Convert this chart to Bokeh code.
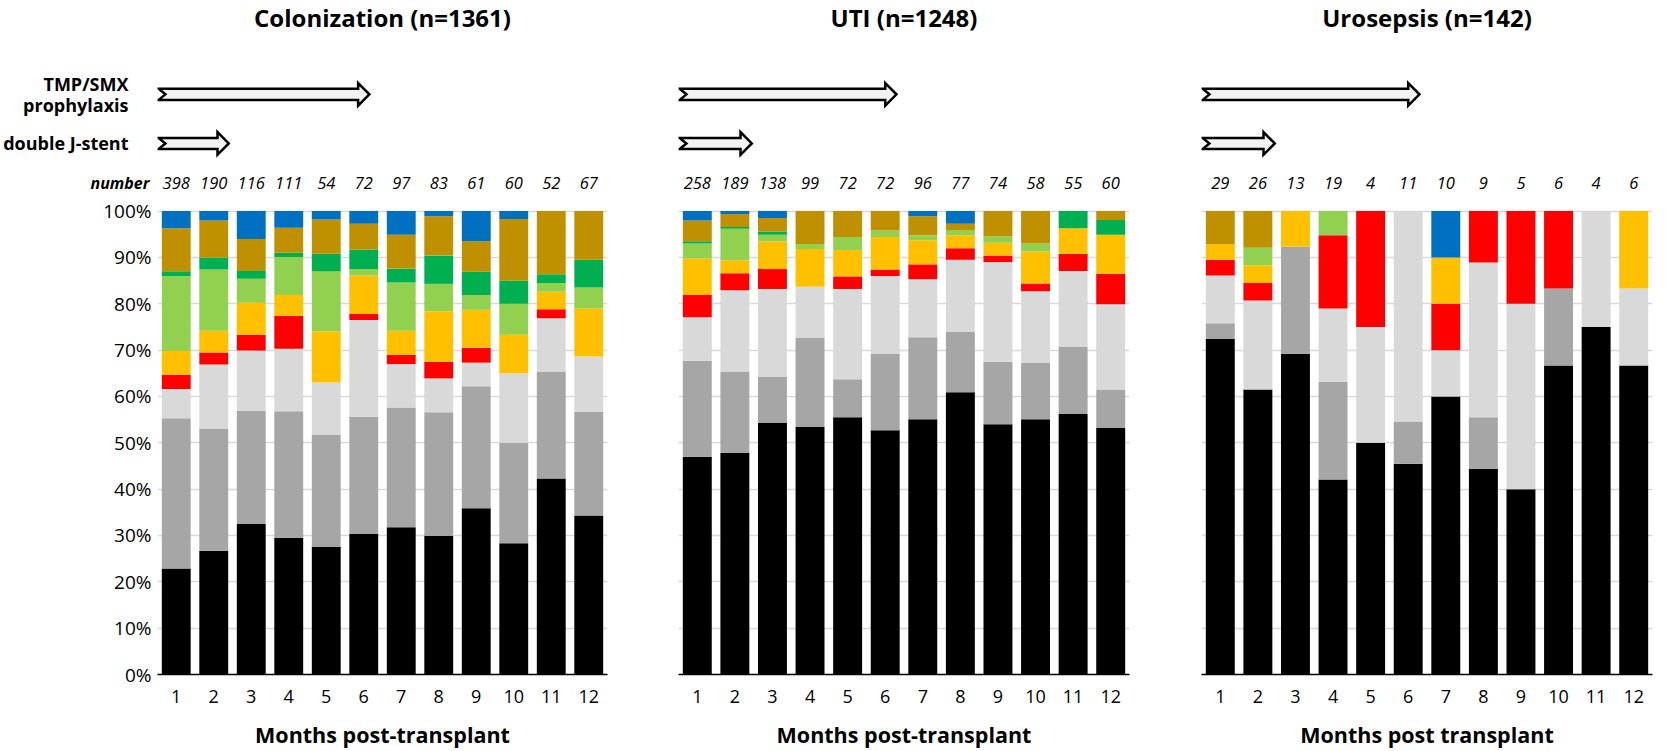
from bokeh.plotting import figure
from bokeh.layouts import row
from bokeh.models import ColumnDataSource, FixedTicker, Range1d, LinearAxis
from bokeh.core.properties import value
from bokeh.embed import file_html
from bokeh.resources import INLINE

FONT = "Open Sans"

months = list(range(1, 13))
month_labels = [str(m) for m in months]
series = ["black", "dark_gray", "light_gray", "red", "yellow", "light_green", "green", "gold", "blue"]
colors = ["#000000", "#A6A6A6", "#D9D9D9", "#FF0000", "#FFC000", "#92D050", "#00B050", "#BF9000", "#0070C0"]

titles = ["Colonization (n=1361)", "UTI (n=1248)", "Urosepsis (n=142)"]
xlabels = ["Months post-transplant", "Months post-transplant", "Months post transplant"]

# sample numbers per month
n_colonization = [398, 190, 116, 111, 54, 72, 97, 83, 61, 60, 52, 67]
n_uti = [258, 189, 138, 99, 72, 72, 96, 77, 74, 58, 55, 60]
n_urosepsis = [29, 26, 13, 19, 4, 11, 10, 9, 5, 6, 4, 6]

# Colonization (% per month)
col_black = [22.9, 26.7, 32.5, 29.5, 27.5, 30.3, 31.8, 29.9, 35.9, 28.3, 42.3, 34.3]
col_dark_gray = [32.4, 26.4, 24.4, 27.3, 24.3, 25.3, 25.8, 26.7, 26.3, 21.7, 23.1, 22.4]
col_light_gray = [6.3, 13.8, 13.0, 13.5, 11.2, 20.9, 9.4, 7.3, 5.1, 15.0, 11.5, 11.9]
col_red = [3.1, 2.6, 3.4, 7.1, 0.0, 1.3, 2.0, 3.6, 3.2, 0.0, 1.9, 0.0]
col_yellow = [5.1, 4.7, 6.9, 4.5, 11.1, 8.3, 5.2, 10.9, 8.2, 8.3, 3.8, 10.4]
col_light_green = [16.2, 13.2, 5.2, 8.2, 12.9, 1.4, 10.4, 5.9, 3.2, 6.7, 1.9, 4.5]
col_green = [1.0, 2.6, 1.7, 0.9, 3.8, 4.2, 3.0, 6.1, 5.0, 5.0, 1.9, 6.0]
col_gold = [9.3, 8.0, 6.9, 5.4, 7.4, 5.6, 7.3, 8.5, 6.6, 13.3, 13.6, 10.5]
col_blue = [3.7, 2.0, 6.0, 3.6, 1.8, 2.7, 5.1, 1.1, 6.5, 1.7, 0.0, 0.0]

# UTI (% per month)
uti_black = [47.0, 47.8, 54.3, 53.4, 55.5, 52.7, 55.1, 60.9, 54.0, 55.1, 56.2, 53.2]
uti_dark_gray = [20.7, 17.6, 10.0, 19.3, 8.2, 16.6, 17.7, 13.0, 13.5, 12.1, 14.6, 8.3]
uti_light_gray = [9.4, 17.5, 18.9, 11.0, 19.5, 16.7, 12.5, 15.6, 21.5, 15.5, 16.3, 18.4]
uti_red = [4.8, 3.7, 4.3, 0.0, 2.7, 1.4, 3.2, 2.5, 1.4, 1.7, 3.7, 6.6]
uti_yellow = [7.9, 2.8, 6.0, 8.1, 5.7, 7.0, 5.2, 2.8, 2.8, 6.9, 5.5, 8.4]
uti_light_green = [3.2, 6.8, 1.4, 1.1, 2.8, 1.4, 1.1, 1.1, 1.4, 1.7, 0.0, 0.0]
uti_green = [0.5, 0.4, 0.7, 0.0, 0.0, 0.0, 0.0, 0.0, 0.0, 0.0, 3.7, 3.2]
uti_gold = [4.5, 2.8, 2.9, 7.1, 5.6, 4.2, 4.1, 1.4, 5.4, 7.0, 0.0, 1.9]
uti_blue = [2.0, 0.6, 1.5, 0.0, 0.0, 0.0, 1.1, 2.7, 0.0, 0.0, 0.0, 0.0]

# Urosepsis (% per month)
uro_black = [72.4, 61.5, 69.2, 42.1, 50.0, 45.5, 60.0, 44.4, 40.0, 66.7, 75.0, 66.7]
uro_dark_gray = [3.4, 0.0, 23.1, 21.1, 0.0, 9.1, 0.0, 11.1, 0.0, 16.6, 0.0, 0.0]
uro_light_gray = [10.3, 19.2, 0.0, 15.8, 25.0, 45.4, 10.0, 33.4, 40.0, 0.0, 25.0, 16.6]
uro_red = [3.4, 3.8, 0.0, 15.8, 25.0, 0.0, 10.0, 11.1, 20.0, 16.7, 0.0, 0.0]
uro_yellow = [3.4, 3.8, 7.7, 0.0, 0.0, 0.0, 10.0, 0.0, 0.0, 0.0, 0.0, 16.7]
uro_light_green = [0.0, 3.8, 0.0, 5.2, 0.0, 0.0, 0.0, 0.0, 0.0, 0.0, 0.0, 0.0]
uro_green = [0.0] * 12
uro_gold = [7.1, 7.9, 0.0, 0.0, 0.0, 0.0, 0.0, 0.0, 0.0, 0.0, 0.0, 0.0]
uro_blue = [0.0, 0.0, 0.0, 0.0, 0.0, 0.0, 10.0, 0.0, 0.0, 0.0, 0.0, 0.0]

panels = [
    (n_colonization, [col_black, col_dark_gray, col_light_gray, col_red, col_yellow,
                      col_light_green, col_green, col_gold, col_blue]),
    (n_uti, [uti_black, uti_dark_gray, uti_light_gray, uti_red, uti_yellow,
             uti_light_green, uti_green, uti_gold, uti_blue]),
    (n_urosepsis, [uro_black, uro_dark_gray, uro_light_gray, uro_red, uro_yellow,
                   uro_light_green, uro_green, uro_gold, uro_blue]),
]

# annotation arrows (end positions in month units): TMP/SMX prophylaxis and double J-stent
arrow_tmp_end = [6.15, 6.3, 6.3]
arrow_stent_end = [2.4, 2.45, 2.45]

Y_TOP = 137.9
Y_LONG = 125.2
Y_SHORT = 114.6
Y_NUM = 106.1
Y_TMP = 127.5
Y_PRO = 122.9


def arrow_patch(x0, x1, yc):
    body = 1.2
    head = 2.45
    hl = 0.30
    notch = 0.18
    xs = [x0, x1 - hl, x1 - hl, x1, x1 - hl, x1 - hl, x0, x0 + notch]
    ys = [yc + body, yc + body, yc + head, yc, yc - head, yc - body, yc - body, yc]
    return xs, ys


def plain_axis(ax):
    ax.axis_line_color = None
    ax.major_tick_line_color = None
    ax.minor_tick_line_color = None
    ax.major_tick_out = 0
    ax.major_tick_in = 0
    ax.minor_tick_out = 0
    ax.minor_tick_in = 0
    ax.major_label_text_color = "black"
    ax.major_label_text_font = FONT


widths = [642, 523, 507]
borders_left = [156, 36, 36]
borders_right = [35, 36, 20]

figs = []
for i, (counts, vals) in enumerate(panels):
    p = figure(width=widths[i], height=751, output_backend="svg", toolbar_location=None,
               x_range=Range1d(0.5, 12.5), y_range=Range1d(0, Y_TOP),
               min_border_left=borders_left[i], min_border_right=borders_right[i],
               min_border_top=34, min_border_bottom=77)
    p.outline_line_color = None
    p.background_fill_color = "white"
    p.border_fill_color = "white"

    data = {"x": months}
    for name, v in zip(series, vals):
        data[name] = v
    src = ColumnDataSource(data)
    p.vbar_stack(series, x="x", width=0.77, color=colors, line_color=None, source=src)

    # title
    p.title.text = titles[i]
    p.title.align = "center"
    p.title.vertical_align = "top"
    p.title.text_font = FONT
    p.title.text_font_size = "24px"
    p.title.text_font_style = "bold"
    p.title.text_color = "black"
    p.title.standoff = 0

    # x axis
    p.xaxis.ticker = FixedTicker(ticks=months)
    p.xaxis.major_label_overrides = {m: l for m, l in zip(months, month_labels)}
    p.xaxis.major_tick_line_color = None
    p.xaxis.minor_tick_line_color = None
    p.xaxis.major_tick_out = 0
    p.xaxis.minor_tick_out = 0
    p.xaxis.axis_line_color = "black"
    p.xaxis.axis_line_width = 1.6
    p.xaxis.major_label_text_font = FONT
    p.xaxis.major_label_text_font_size = "18px"
    p.xaxis.major_label_text_color = "black"
    p.xaxis.major_label_standoff = 15
    p.xaxis.axis_label = xlabels[i]
    p.xaxis.axis_label_text_font = FONT
    p.xaxis.axis_label_text_font_size = "21.5px"
    p.xaxis.axis_label_text_font_style = "bold"
    p.xaxis.axis_label_text_color = "black"
    p.xaxis.axis_label_standoff = 14
    p.xgrid.visible = False

    yt = list(range(0, 101, 10))
    p.yaxis.ticker = FixedTicker(ticks=yt)
    p.ygrid.ticker = FixedTicker(ticks=yt)
    p.ygrid.grid_line_color = "#D9D9D9"
    p.ygrid.grid_line_width = 1.5
    if i == 0:
        p.yaxis.major_label_overrides = {t: f"{t}%" for t in yt}
        plain_axis(p.yaxis[0])
        p.yaxis.major_label_text_font_size = "19px"
        p.yaxis.major_label_standoff = 6

        # row labels to the left of panel 1
        ax_num = LinearAxis(ticker=FixedTicker(ticks=[Y_NUM]),
                            major_label_overrides={Y_NUM: "number"})
        plain_axis(ax_num)
        ax_num.major_label_text_font_size = "16px"
        ax_num.major_label_text_font_style = "bold italic"
        ax_num.major_label_standoff = -49
        p.add_layout(ax_num, "left")

        ax_lab = LinearAxis(ticker=FixedTicker(ticks=[Y_TMP, Y_PRO, Y_SHORT]),
                            major_label_overrides={Y_TMP: "TMP/SMX", Y_PRO: "prophylaxis",
                                                   Y_SHORT: "double J-stent"})
        plain_axis(ax_lab)
        ax_lab.major_label_text_font_size = "18px"
        ax_lab.major_label_text_font_style = "bold"
        ax_lab.major_label_standoff = -41
        p.add_layout(ax_lab, "left")
    else:
        p.yaxis.visible = False

    # arrows
    for x1, yc in [(arrow_tmp_end[i], Y_LONG), (arrow_stent_end[i], Y_SHORT)]:
        xs, ys = arrow_patch(0.53, x1, yc)
        p.patch(xs, ys, fill_color="#F2F2F2", line_color="black", line_width=2.5,
                line_join="miter")

    # counts row
    p.text(x=months, y=[Y_NUM] * 12, text=[str(c) for c in counts],
           text_font=value(FONT), text_font_size="16.5px", text_font_style="italic",
           text_align="center", text_baseline="middle", text_color="black")

    figs.append(p)

layout = row(*figs)
open("out.html", "w").write(file_html(layout, INLINE))
